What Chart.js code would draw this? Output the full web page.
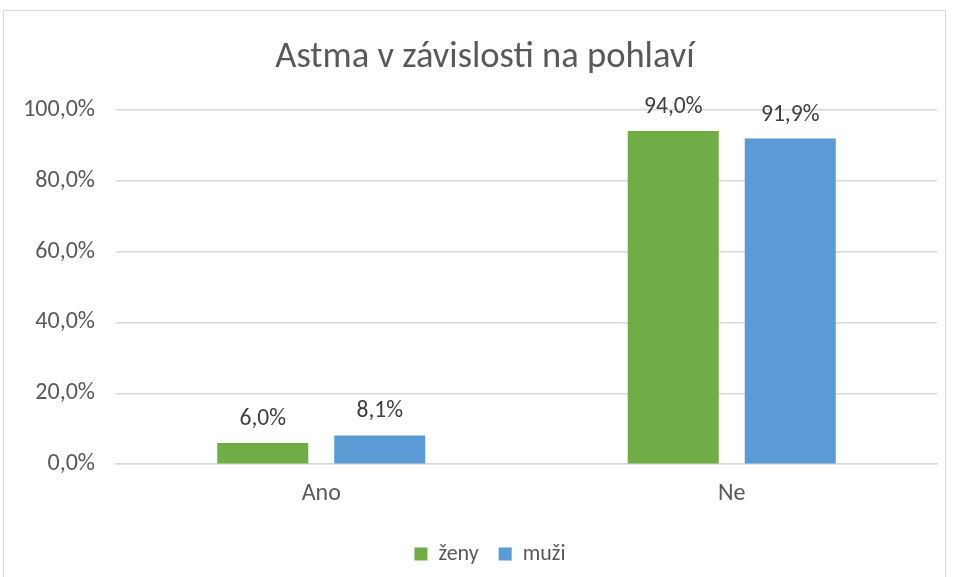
<!DOCTYPE html>
<html>
<head>
<meta charset="utf-8">
<script src="https://cdn.jsdelivr.net/npm/chart.js@4/dist/chart.umd.min.js"></script>
<style>
  html,body{margin:0;padding:0;background:#fff;}
  #wrap{position:absolute;left:0;top:0;width:954px;height:577px;}
  #frame{position:absolute;left:3px;top:10px;width:943px;height:580px;border:1.5px solid #d9d9d9;box-sizing:border-box;pointer-events:none;}
</style>
</head>
<body>
<div id="wrap"><canvas id="c" width="954" height="577"></canvas></div>
<div id="frame"></div>
<script>
const chartTitle = 'Astma v závislosti na pohlaví';
const categories = ['Ano', 'Ne'];
const seriesNames = ['ženy', 'muži'];
const zeny = [6.0, 94.0];
const muzi = [8.1, 91.9];
const yTickValues = [0, 20, 40, 60, 80, 100];

const FONT = "Carlito, Lato, 'Open Sans', sans-serif";
const fmt = v => v.toFixed(1).replace('.', ',') + '%';

const labelPlugin = {
  id: 'valueLabels',
  afterDatasetsDraw(chart) {
    const ctx = chart.ctx;
    ctx.save();
    ctx.font = '23.5px ' + FONT;
    ctx.fillStyle = '#404040';
    ctx.textAlign = 'center';
    ctx.textBaseline = 'alphabetic';
    chart.data.datasets.forEach((ds, i) => {
      const meta = chart.getDatasetMeta(i);
      meta.data.forEach((bar, j) => {
        ctx.fillText(fmt(ds.data[j]), bar.x, bar.y - 18);
      });
    });
    ctx.restore();
  }
};

// shift title and legend horizontally so they are centred like the original
const shiftPlugin = {
  id: 'shiftBlocks',
  afterLayout(chart) {
    if (chart.titleBlock) { chart.titleBlock.left += 29; }
    if (chart.legend) { chart.legend.left += 39; }
  }
};

new Chart(document.getElementById('c'), {
  type: 'bar',
  data: {
    labels: categories,
    datasets: [
      { label: seriesNames[0], data: zeny, backgroundColor: '#70ad47', borderWidth: 0 },
      { label: seriesNames[1], data: muzi, backgroundColor: '#5b9bd5', borderWidth: 0 }
    ]
  },
  options: {
    responsive: false,
    animation: false,
    devicePixelRatio: 1,
    layout: { padding: { left: 4, right: 17, top: 36, bottom: 2 } },
    datasets: { bar: { categoryPercentage: 0.57, barPercentage: 0.778 } },
    plugins: {
      title: {
        display: true,
        text: chartTitle,
        color: '#595959',
        font: { family: FONT, size: 36.5, weight: 'normal' },
        padding: { top: 0, bottom: 30 }
      },
      legend: {
        position: 'bottom',
        labels: {
          color: '#595959',
          font: { family: FONT, size: 22 },
          boxWidth: 13,
          boxHeight: 13,
          padding: 20
        }
      },
      tooltip: { enabled: false }
    },
    scales: {
      x: {
        grid: { display: false, drawTicks: false },
        border: { display: true, color: '#d9d9d9', width: 1.5 },
        ticks: { color: '#595959', font: { family: FONT, size: 24 }, padding: 15 }
      },
      y: {
        min: 0,
        max: 100,
        afterBuildTicks(axis) { axis.ticks = yTickValues.map(v => ({ value: v })); },
        afterFit(axis) { axis.width = 112; },
        grid: { color: '#d9d9d9', lineWidth: 1.5, drawTicks: false },
        border: { display: false },
        ticks: {
          color: '#595959',
          font: { family: FONT, size: 24 },
          padding: 21,
          callback: v => fmt(v)
        }
      }
    }
  },
  plugins: [labelPlugin, shiftPlugin]
});
</script>
</body>
</html>
